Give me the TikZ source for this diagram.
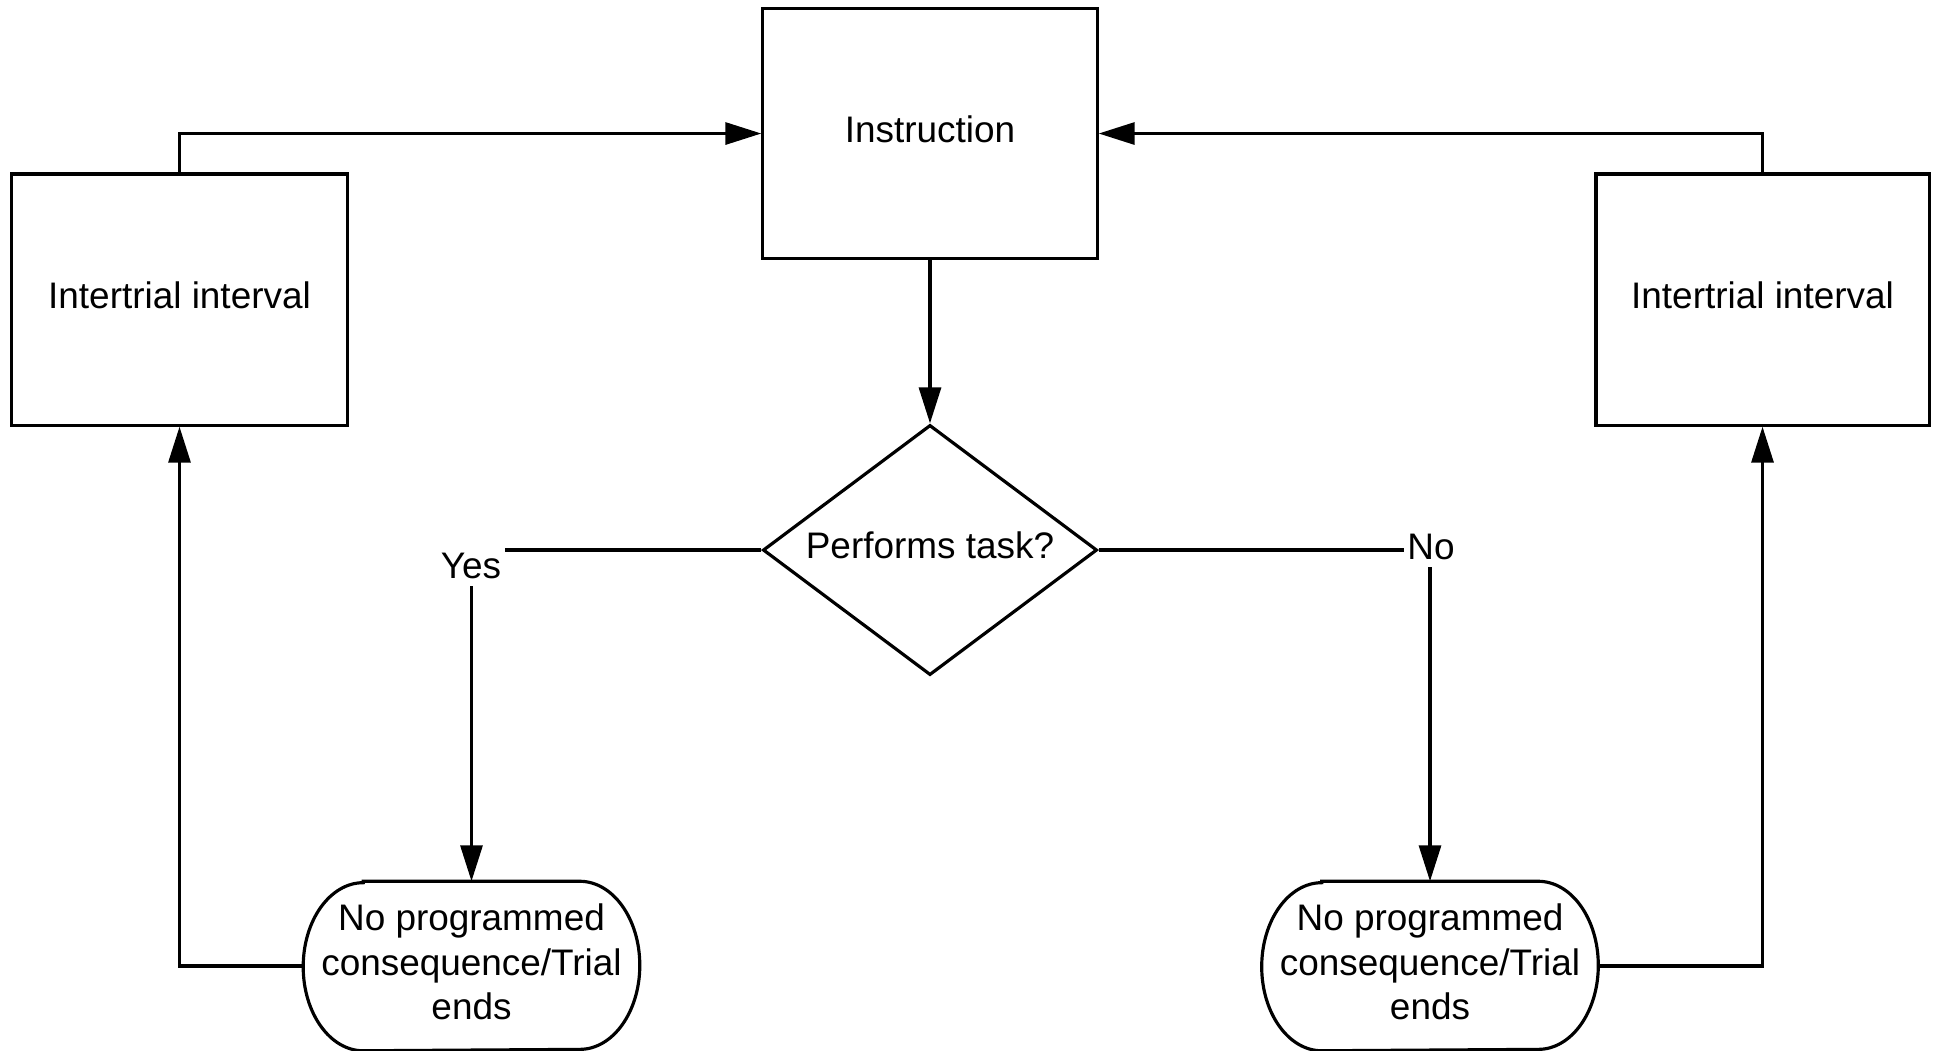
\documentclass[tikz,border=0pt]{standalone}
\usepackage{fontspec}
\setmainfont{Liberation Sans}
\usetikzlibrary{shapes.geometric,arrows.meta}
\begin{document}
\begin{tikzpicture}[x=0.01cm,y=-0.01cm,
  every node/.style={font=\fontsize{10.5}{12.6}\selectfont, inner sep=0pt},
  box/.style={draw, line width=0.9pt, rectangle, minimum width=3.34cm, minimum height=2.5cm},
  decision/.style={draw, line width=0.9pt, diamond, aspect=1.336, minimum width=3.34cm, minimum height=2.5cm},
  terminal/.style={rectangle, minimum width=3.35cm, minimum height=1.68cm},
  conn/.style={line width=0.9pt, -{Triangle[length=3.6mm,width=2.2mm]}},
  lbl/.style={fill=white, inner xsep=1pt, inner ysep=2pt}]
\useasboundingbox (0,0) rectangle (1939,1050);

\node[box] (instr) at (930,133.5) {};
\node at (930,129) {Instruction};
\node[box, minimum width=3.35cm, minimum height=2.51cm] (itiL) at (179.5,299.5) {};
\node at (179.5,295) {Intertrial interval};
\node[box, minimum width=3.33cm, minimum height=2.51cm] (itiR) at (1762.5,299.5) {};
\node at (1762.5,295) {Intertrial interval};
\node[decision] (dec) at (930,550) {};
\node at (930,545) {Performs task?};

\node[terminal] (endL) at (471.5,966) {};
\node[align=center] at (471.5,962) {No programmed\\consequence/Trial\\ends};
\node[terminal] (endR) at (1430,966) {};
\node[align=center] at (1430,962) {No programmed\\consequence/Trial\\ends};

% rounded outlines of the two terminal shapes
\foreach \n in {endL,endR}{
  \draw[line width=0.9pt]
    ([xshift=0.6cm]\n.north west) -- ([xshift=-0.6cm]\n.north east)
    arc[start angle=90, end angle=-90, x radius=0.6cm, y radius=0.84cm]
    -- ([xshift=0.6cm]\n.south west)
    arc[start angle=270, end angle=90, x radius=0.6cm, y radius=0.84cm] -- cycle;
}

% connectors
\draw[conn] (itiL.north) |- (instr.west);
\draw[conn] (itiR.north) |- (instr.east);
\draw[conn] (instr.south) -- (dec.north);
\draw[conn] (dec.west) -| (endL.north);
\draw[conn] (dec.east) -| (endR.north);
\draw[conn] (endL.west) -| (itiL.south);
\draw[conn] (endR.east) -| (itiR.south);

% branch labels
\node[lbl] (yes) at (471,566) {Yes};
\node[lbl] (no) at (1431,547) {No};
\end{tikzpicture}
\end{document}
